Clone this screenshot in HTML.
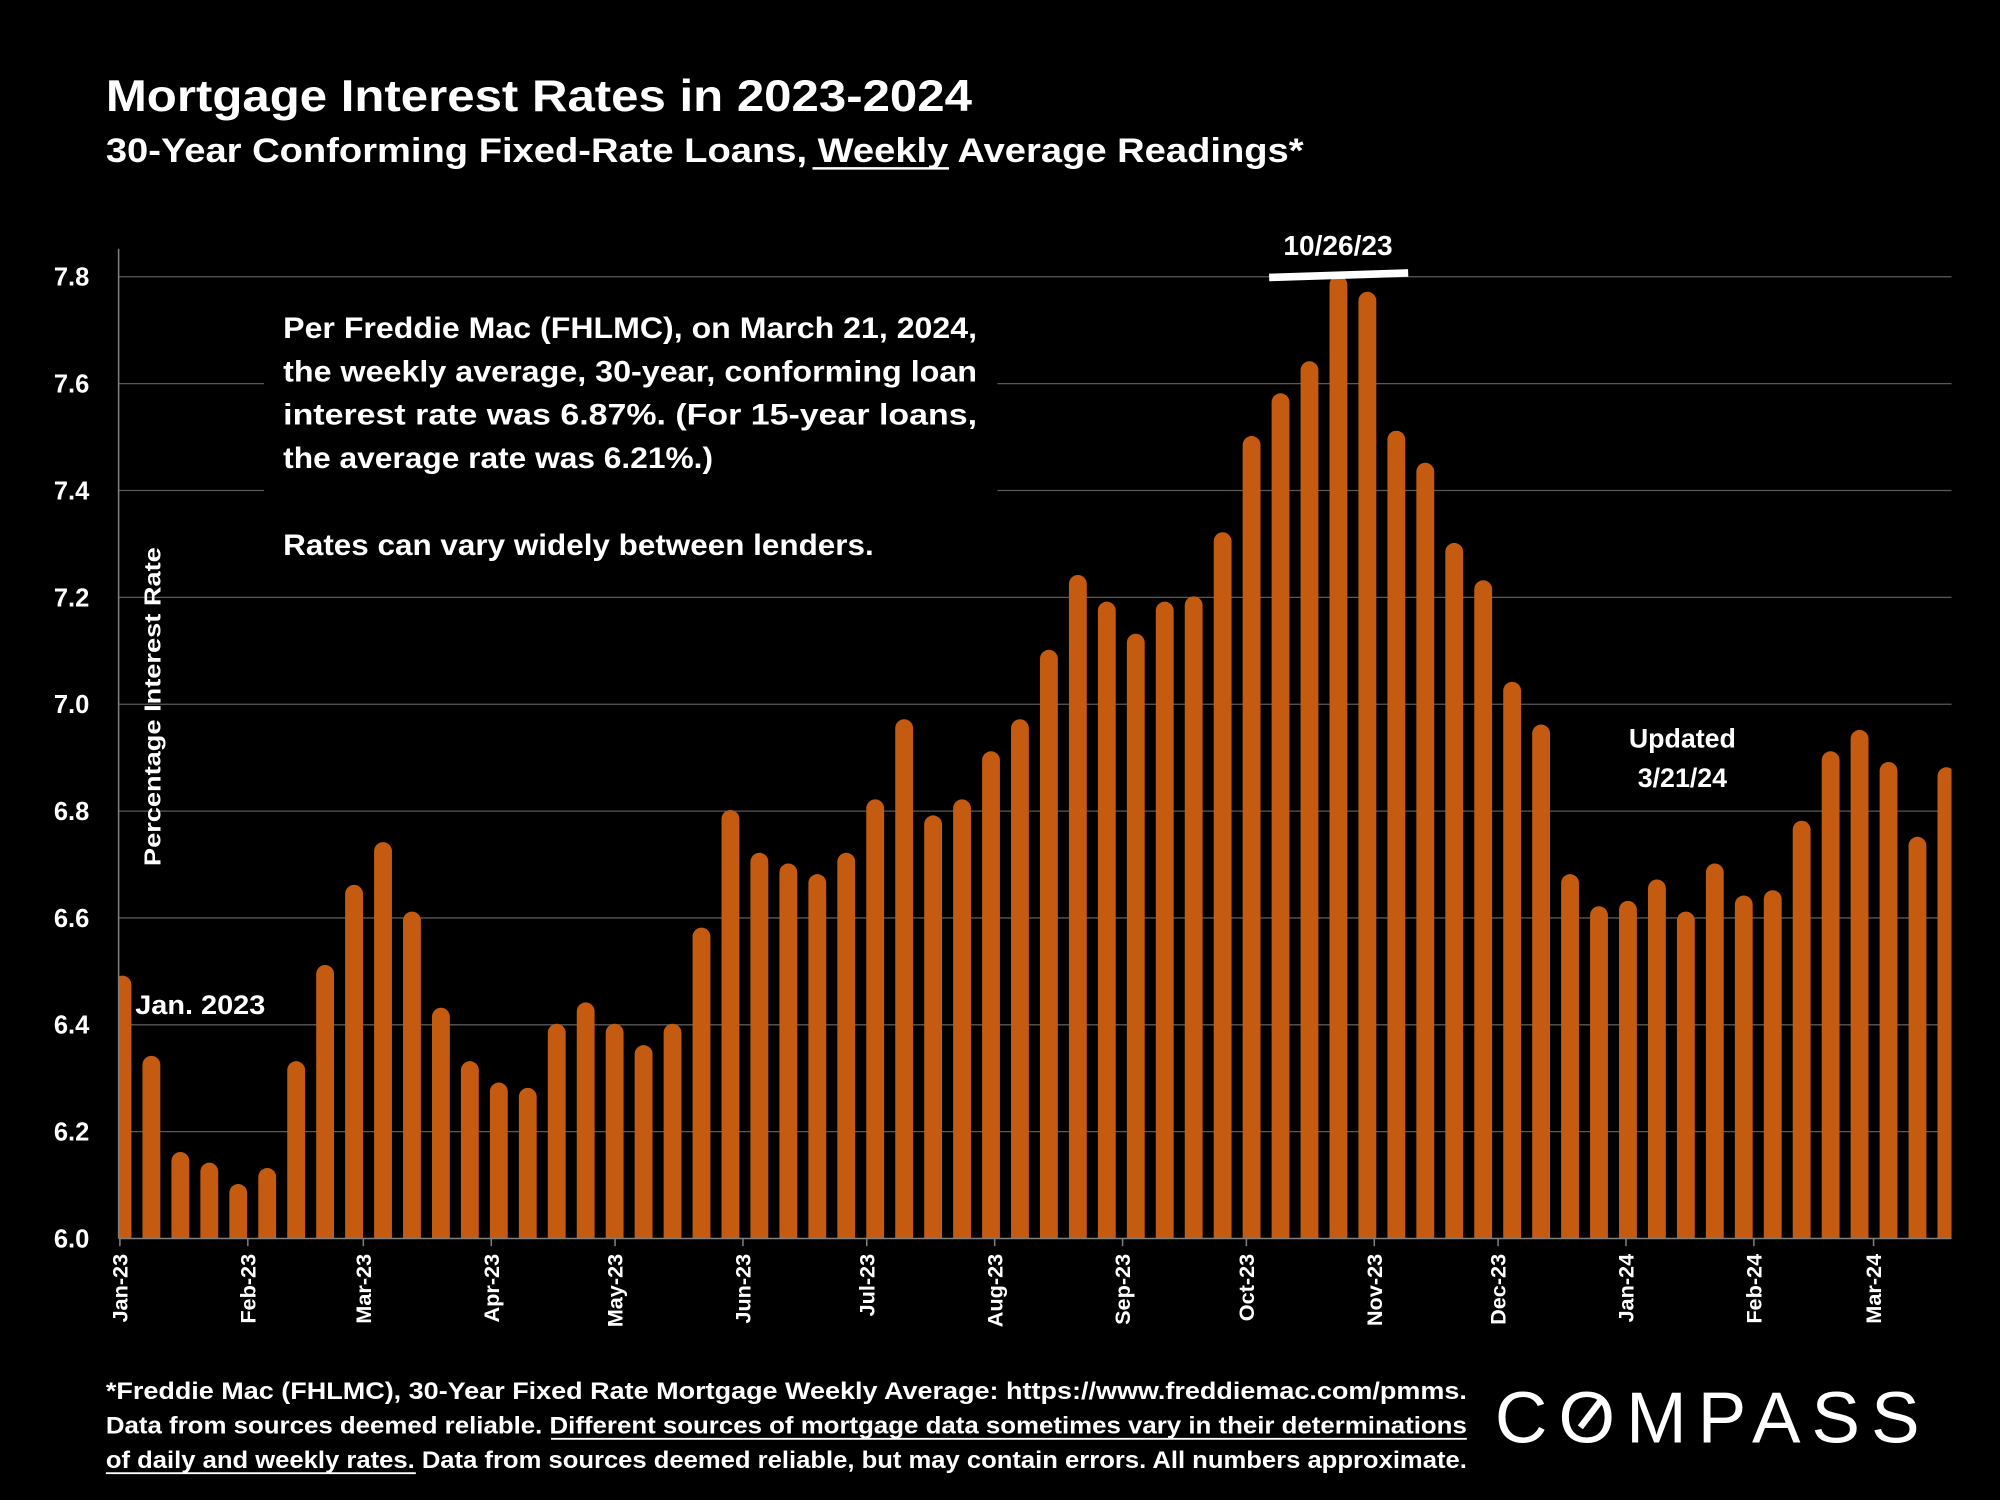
<!DOCTYPE html>
<html><head><meta charset="utf-8"><style>
html,body{margin:0;padding:0;background:#000;}
svg{display:block;}
text{font-family:"Liberation Sans",sans-serif;font-weight:bold;fill:#fff;}
</style></head>
<body>
<svg id="chart" width="2000" height="1500" viewBox="0 0 1568 1176" xmlns="http://www.w3.org/2000/svg">
<rect width="1568" height="1176" fill="#000"/>
<text x="83" y="87" font-size="35" textLength="679" lengthAdjust="spacingAndGlyphs">Mortgage Interest Rates in 2023-2024</text>
<text x="83" y="127" font-size="27" textLength="939" lengthAdjust="spacingAndGlyphs">30-Year Conforming Fixed-Rate Loans, Weekly Average Readings*</text>
<line x1="637" y1="132" x2="744" y2="132" stroke="#fff" stroke-width="2"/>
<g id="grid"></g>
<g id="bars"></g>
<g id="yaxis"></g>
<g id="xaxis"></g>
<rect x="207" y="232" width="575" height="170" fill="#000"/>
<g font-size="23">
<text x="222" y="265" textLength="544" lengthAdjust="spacingAndGlyphs">Per Freddie Mac (FHLMC), on March 21, 2024,</text>
<text x="222" y="299" textLength="544" lengthAdjust="spacingAndGlyphs">the weekly average, 30-year, conforming loan</text>
<text x="222" y="333" textLength="544" lengthAdjust="spacingAndGlyphs">interest rate was 6.87%. (For 15-year loans,</text>
<text x="222" y="367" textLength="337" lengthAdjust="spacingAndGlyphs">the average rate was 6.21%.)</text>
<text x="222" y="435" textLength="463" lengthAdjust="spacingAndGlyphs">Rates can vary widely between lenders.</text>
</g>
<text transform="translate(126,554) rotate(-90)" text-anchor="middle" font-size="18" textLength="250" lengthAdjust="spacingAndGlyphs">Percentage Interest  Rate</text>
<text x="106" y="795" font-size="21" textLength="102" lengthAdjust="spacingAndGlyphs">Jan. 2023</text>
<text x="1319" y="586" font-size="21" text-anchor="middle">Updated</text>
<text x="1319" y="617" font-size="21" text-anchor="middle">3/21/24</text>
<text x="1049" y="200" font-size="22" text-anchor="middle">10/26/23</text>
<line x1="995" y1="217.5" x2="1104" y2="214" stroke="#fff" stroke-width="6"/>
<g font-size="19">
<text x="83" y="1097" textLength="1067" lengthAdjust="spacingAndGlyphs">*Freddie Mac (FHLMC), 30-Year Fixed Rate Mortgage Weekly Average:  https://www.freddiemac.com/pmms.</text>
<text x="83" y="1124" textLength="1067" lengthAdjust="spacingAndGlyphs">Data from sources deemed reliable. Different sources of mortgage data sometimes vary in their determinations</text>
<text x="83" y="1151" textLength="1067" lengthAdjust="spacingAndGlyphs">of daily and weekly rates. Data from sources deemed reliable, but may contain errors. All numbers approximate.</text>
<line x1="432" y1="1128" x2="1150" y2="1128" stroke="#fff" stroke-width="1.5"/>
<line x1="83" y1="1155" x2="326" y2="1155" stroke="#fff" stroke-width="1.5"/>
</g>
<g>
<text x="1172" y="1131" font-size="57" font-weight="normal" style="font-weight:normal" textLength="333" lengthAdjust="spacing">COMPASS</text>
<line x1="1239" y1="1119" x2="1255" y2="1098" stroke="#fff" stroke-width="5"/>
</g>
</svg>
<script>
const dates = ["1/5/23","1/12/23","1/19/23","1/26/23","2/2/23","2/9/23","2/16/23","2/23/23","3/2/23","3/9/23","3/16/23","3/23/23","3/30/23","4/6/23","4/13/23","4/20/23","4/27/23","5/4/23","5/11/23","5/18/23","5/25/23","6/1/23","6/8/23","6/15/23","6/22/23","6/29/23","7/6/23","7/13/23","7/20/23","7/27/23","8/3/23","8/10/23","8/17/23","8/24/23","8/31/23","9/7/23","9/14/23","9/21/23","9/28/23","10/5/23","10/12/23","10/19/23","10/26/23","11/2/23","11/9/23","11/16/23","11/22/23","11/30/23","12/7/23","12/14/23","12/21/23","12/28/23","1/4/24","1/11/24","1/18/24","1/25/24","2/1/24","2/8/24","2/15/24","2/22/24","2/29/24","3/7/24","3/14/24","3/21/24"];
const rates = [6.48,6.33,6.15,6.13,6.09,6.12,6.32,6.50,6.65,6.73,6.60,6.42,6.32,6.28,6.27,6.39,6.43,6.39,6.35,6.39,6.57,6.79,6.71,6.69,6.67,6.71,6.81,6.96,6.78,6.81,6.90,6.96,7.09,7.23,7.18,7.12,7.18,7.19,7.31,7.49,7.57,7.63,7.79,7.76,7.50,7.44,7.29,7.22,7.03,6.95,6.67,6.61,6.62,6.66,6.60,6.69,6.63,6.64,6.77,6.90,6.94,6.88,6.74,6.87];
const yTicks = [6.0,6.2,6.4,6.6,6.8,7.0,7.2,7.4,7.6,7.8];
const monthLabels = ["Jan-23","Feb-23","Mar-23","Apr-23","May-23","Jun-23","Jul-23","Aug-23","Sep-23","Oct-23","Nov-23","Dec-23","Jan-24","Feb-24","Mar-24"];
const monthDays = [0,31,59,90,120,151,181,212,243,273,304,334,365,396,425];

const NS="http://www.w3.org/2000/svg";
const X0=93, X1=1530, Y0=971, YT=217;
const yScale=v=>Y0-(v-6.0)/(7.8-6.0)*(Y0-YT);
const pitch=(1526-96)/63;
const xBar=i=>96+i*pitch;
const xDay=d=>94+d*3.235;
function mk(tag,attrs,parent){const e=document.createElementNS(NS,tag);for(const k in attrs)e.setAttribute(k,attrs[k]);parent.appendChild(e);return e;}
const grid=document.getElementById('grid'),bars=document.getElementById('bars'),ya=document.getElementById('yaxis'),xa=document.getElementById('xaxis');
yTicks.forEach(t=>{
  if(t>6.0){const l=mk('line',{x1:X0,x2:X1,y1:yScale(t),y2:yScale(t),stroke:'#595959','stroke-width':1},grid);
  
  }
  const tx=mk('text',{x:70,y:yScale(t)+7,'text-anchor':'end','font-size':20},ya);
  tx.textContent=t.toFixed(1);
  
  
});
const cp=mk('clipPath',{id:'plotclip'},bars);
mk('rect',{x:X0,y:YT,width:X1-X0,height:Y0-YT},cp);
const bg=mk('g',{'clip-path':'url(#plotclip)'},bars);
const bw=14;
rates.forEach((v,i)=>{
  const x=xBar(i)-bw/2, y=yScale(v)-5, r=bw/2;
  const d=`M${x},${Y0} L${x},${y+r} A${r},${r} 0 0 1 ${x+bw},${y+r} L${x+bw},${Y0} Z`;
  const p=mk('path',{d:d,fill:'#C55A11'},bg);
  
  
});
mk('line',{x1:X0,x2:X0,y1:195,y2:Y0,stroke:'#7f7f7f','stroke-width':1.2},ya);
mk('line',{x1:X0,x2:X1,y1:Y0,y2:Y0,stroke:'#7f7f7f','stroke-width':1.2},xa);
monthLabels.forEach((m,i)=>{
  const x=xDay(monthDays[i]);
  mk('line',{x1:x,x2:x,y1:Y0,y2:Y0+6,stroke:'#7f7f7f','stroke-width':1.2},xa);
  const t=mk('text',{transform:`translate(${x+6},${Y0+12}) rotate(-90)`,'text-anchor':'end','font-size':17},xa);
  t.textContent=m;
  
  
});
</script>
</body></html>
